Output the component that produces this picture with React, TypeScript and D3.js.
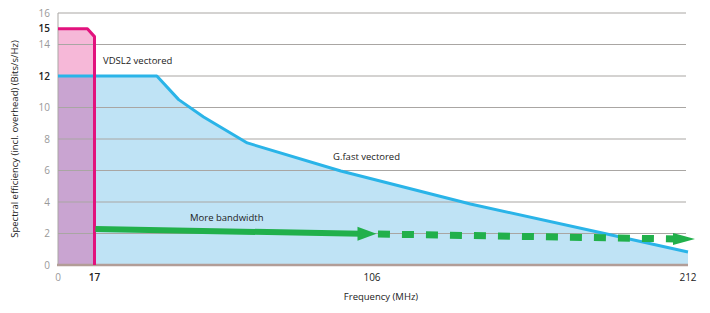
import * as d3 from 'd3';

// MHz and bits/s/Hz
const vdslFreq = [0, 13.7, 17, 17];
const vdslEff = [15, 15, 14.5, 0];

const gfastFreq = [0, 37, 44, 52, 66, 96, 139, 184, 212];
const gfastEff = [12, 12, 10.5, 9.4, 7.75, 5.97, 3.87, 2.0, 0.83];

const arrowFreq = [17, 107.5];
const arrowEff = [2.29, 1.98];
const dashFreq = [108, 213];
const dashEff = [1.97, 1.65];

const xTicks = [0, 17, 106, 212];
const yTicks = [0, 2, 4, 6, 8, 10, 12, 14, 15, 16];
const yGrid = [2, 4, 6, 8, 10, 12, 14, 16];
const boldY = [12, 15];

const font = '"Open Sans", "DejaVu Sans", sans-serif';

export default function App() {
  const w = 710, h = 313;
  // the original axis is not evenly spaced, so a piecewise scale
  const x = d3.scaleLinear().domain(xTicks).range([58, 94.5, 372, 688]);
  const y = d3.scaleLinear().domain([0, 16]).range([265, 13]);

  const vdsl = vdslFreq.map((f, i) => [f, vdslEff[i]] as [number, number]);
  const gfast = gfastFreq.map((f, i) => [f, gfastEff[i]] as [number, number]);

  const area = d3.area<[number, number]>()
    .x(d => x(d[0]))
    .y0(y(0))
    .y1(d => y(d[1]));
  const line = d3.line<[number, number]>()
    .x(d => x(d[0]))
    .y(d => y(d[1]));

  // arrow heads
  const tipX = x(arrowFreq[1]), tipY = y(arrowEff[1]);
  const head1 = `M${tipX},${tipY} L${tipX - 19},${tipY - 7} L${tipX - 19},${tipY + 7} Z`;
  const endX = x(dashFreq[1]) + 4, endY = y(dashEff[1]);
  const head2 = `M${endX},${endY} L${endX - 22},${endY - 6} L${endX - 22},${endY + 6} Z`;

  return (
    <div style={{ position: 'absolute', left: 0, top: 0 }}>
      <svg width={w} height={h} style={{ display: 'block', fontFamily: font }}>
        <rect width={w} height={h} fill="#fff" />

        <path d={area(gfast) || ''} fill="#bfe3f5" />
        <path d={area(vdsl) || ''} fill="#e0147f" fillOpacity={0.3} />

        {yGrid.map(v => (
          <line key={v} x1={58} x2={686} y1={y(v)} y2={y(v)} stroke="#a9a6a3" strokeWidth={1} />
        ))}
        <line x1={58} x2={58} y1={y(16)} y2={y(0)} stroke="#a9a6a3" strokeWidth={1} />
        <line x1={57} x2={688} y1={y(0)} y2={y(0)} stroke="#b29d97" strokeWidth={2.5} />

        <path d={line(gfast) || ''} fill="none" stroke="#2ab4e8" strokeWidth={3} strokeLinejoin="round" />
        <path d={line(vdsl) || ''} fill="none" stroke="#e2127d" strokeWidth={3} strokeLinejoin="round" />

        {/* More bandwidth arrow */}
        <line x1={x(arrowFreq[0]) + 1} y1={y(arrowEff[0])} x2={tipX - 15} y2={tipY}
          stroke="#21b04b" strokeWidth={6} />
        <path d={head1} fill="#21b04b" />
        <line x1={x(dashFreq[0])} y1={y(dashEff[0])} x2={endX - 18} y2={endY}
          stroke="#21b04b" strokeWidth={7} strokeDasharray="12 12" />
        <path d={head2} fill="#21b04b" />

        {yTicks.map(v => (
          <text key={v} x={50} y={y(v)} dy="0.35em" textAnchor="end" fontSize={10}
            fill={boldY.includes(v) ? '#222' : '#999'} fontWeight={boldY.includes(v) ? 600 : 400}>
            {v}
          </text>
        ))}
        {xTicks.map(v => (
          <text key={v} x={x(v)} y={281} textAnchor="middle" fontSize={10}
            fill={v === 0 ? '#999' : '#222'} fontWeight={v === 17 ? 600 : 400}>
            {v}
          </text>
        ))}

        <text x={103} y={64} fontSize={9.5} fill="#222">VDSL2 vectored</text>
        <text x={333} y={160} fontSize={9.5} fill="#222">G.fast vectored</text>
        <text x={190} y={221} fontSize={9.5} fill="#222">More bandwidth</text>
        <text x={381} y={300} textAnchor="middle" fontSize={9.5} fill="#222">Frequency (MHz)</text>
        <text transform={`translate(18,${139}) rotate(-90)`} textAnchor="middle" fontSize={9.5} fill="#222">
          Spectral efficiency (incl. overhead) (Bits/s/Hz)
        </text>
      </svg>
    </div>
  );
}
